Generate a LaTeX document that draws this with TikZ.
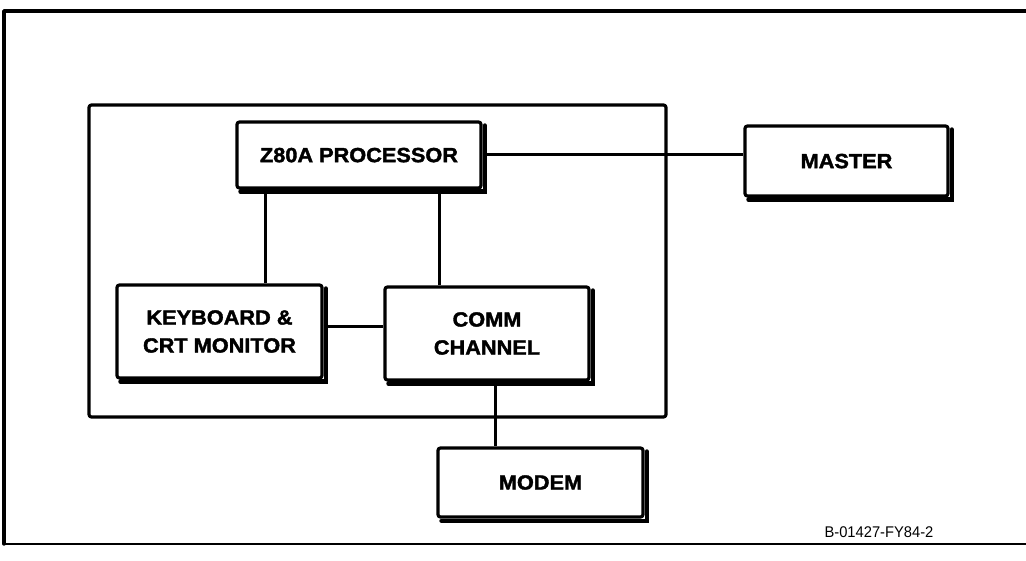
\documentclass[tikz,border=0pt]{standalone}
\usepackage{fontspec}
\newfontfamily\boxfont{Liberation Sans}[FakeStretch=1.06,FakeBold=1.8]
\newfontfamily\tagfont{Liberation Sans}[FakeStretch=0.95]
\tikzset{
  frame/.style={line width=3.4pt, line cap=round, line join=round},
  blk/.style={draw, line width=3.2pt, rounded corners=2.5pt, align=center,
    font=\boxfont\bfseries\fontsize{20.5}{28}\selectfont, inner sep=0pt},
  wire/.style={line width=3pt},
  shade/.style={line width=4.2pt, line cap=round}
}
\newcommand{\heavyedge}[1]{%
  \draw[shade] ([xshift=2pt,yshift=-5pt]#1.north east) -- ([xshift=2pt,yshift=-2pt]#1.south east) -- ([xshift=5pt,yshift=-2pt]#1.south west);}
\begin{document}
\begin{tikzpicture}[x=1pt,y=-1pt]
\useasboundingbox (0,0) rectangle (1026,561);
% outer frame
\draw[frame] (1040,11) -- (4,11) -- (4,544);
\draw[frame, line width=2.6pt] (4,544) -- (1040,544);
% inner enclosure
\draw[frame, line width=3.2pt, rounded corners=2.5pt] (89,105) rectangle (666,417);
% blocks
\node[blk, minimum width=244pt, minimum height=66pt, text depth=-4pt] (proc) at (359,155) {Z80A PROCESSOR};
\node[blk, minimum width=203pt, minimum height=70pt, text depth=-2pt] (master) at (846.5,161) {MASTER};
\node[blk, minimum width=205pt, minimum height=93pt] (kb) at (219.5,331.5) {KEYBOARD \&\\CRT MONITOR};
\node[blk, minimum width=204pt, minimum height=93pt] (comm) at (487,333.5) {COMM\\CHANNEL};
\node[blk, minimum width=205pt, minimum height=69pt] (modem) at (540.5,482.5) {MODEM};
\heavyedge{proc}
\heavyedge{master}
\heavyedge{kb}
\heavyedge{comm}
\heavyedge{modem}
% connectors
\draw[wire] (proc.east) -- (proc.east -| master.west);
\draw[wire] ([xshift=45.5pt]kb.north) -- ([xshift=45.5pt]kb.north |- proc.south);
\draw[wire] ([xshift=-48pt]comm.north) -- ([xshift=-48pt]comm.north |- proc.south);
\draw[wire] ([yshift=4.5pt]kb.east) -- ([yshift=4.5pt]kb.east -| comm.west);
\draw[wire] ([xshift=8pt]comm.south) -- ([xshift=8pt]comm.south |- modem.north);
% tag
\node[font=\tagfont\fontsize{15.5}{18}\selectfont, inner sep=0pt] (tag) at (879,532) {B-01427-FY84-2};
\end{tikzpicture}
\end{document}
